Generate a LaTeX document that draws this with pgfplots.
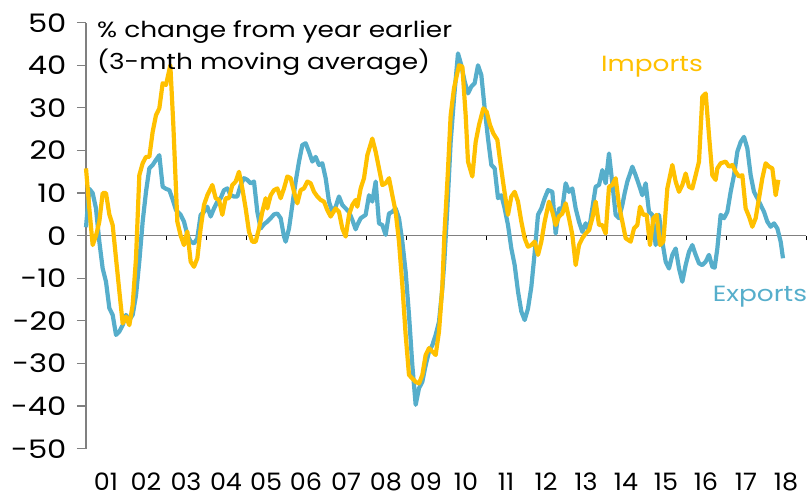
\documentclass[border=0pt]{standalone}
\usepackage{fontspec}
\setmainfont{Poppins}[FakeStretch=1.2]
\newfontfamily\xlabfont{Poppins}[FakeStretch=1.06]
\usepackage{pgfplots}
\pgfplotsset{compat=1.18}
\definecolor{expc}{RGB}{86,174,203}
\definecolor{impc}{RGB}{255,192,0}
\definecolor{axgray}{RGB}{128,128,128}

\pgfplotstableread{
m v
0 2
1 11
2 10
3 6.4
4 -1.4
5 -7.7
6 -10.8
7 -17
8 -18.6
9 -23.3
10 -22.5
11 -21
12 -18.6
13 -19.8
14 -18.6
15 -14
16 -6
17 3.3
18 10.3
19 15.8
20 16.6
21 17.8
22 18.9
23 11.5
24 11
25 10.7
26 8.5
27 6
28.4 4.9
29.4 3.3
30.4 0.2
31.4 -1.4
32.4 -1.8
33.4 -0.6
34.4 4.9
35.4 5.6
36.4 6.8
37.4 4.5
38.4 6.4
39.4 8
40.4 8.8
41.4 10.7
42.4 11.1
43.4 9.5
44.4 9.2
45.4 9.2
46.4 11.9
47.4 13.5
48.4 13.1
49.4 12.3
50.4 12.7
51.4 5.6
52.4 1.7
53.4 2.7
54.4 3.3
55.4 4.1
56.4 5
57.4 5.2
58.4 4.1
59.4 -0.2
59.9 -1.4
60.9 1.7
61.9 7.2
62.9 12.7
63.9 17.4
64.9 21.3
65.9 21.7
66.9 19.7
67.9 17.4
68.9 18.5
69.9 16.6
70.9 17
71.9 13.5
72.9 8
73.9 5.6
74.9 6.8
75.9 9.2
76.9 7.2
77.9 6.4
78.9 5.6
79.9 3.7
80.9 1.5
81.4 2.5
82.4 4.1
83.9 4.9
84.9 9.5
85.9 8
86.9 12.7
87.9 2.9
88.9 2.5
89.9 0.2
90.9 5.2
91.9 5.6
92.9 6.4
93.9 4.1
94.9 -1.4
95.9 -8.5
96.9 -18.6
97.9 -30.4
98.9 -39.7
99.9 -35.8
100.9 -34.3
101.9 -30.4
102.9 -27.2
103.9 -25.7
104.9 -23.3
105.9 -20.2
106.9 -12.4
107.5 -6
108.4 6.4
109.4 22
110.4 32.2
111.6 42.8
112.6 40
113.6 36.2
114.6 33.4
115.6 35
116.6 35.8
117.6 40
118.6 37.7
119.6 29.9
120.6 22.8
121.6 16.6
122.6 15.8
123.6 8.8
124.6 9.5
125.6 6.4
126.6 2.5
127.6 -3
128.6 -6.9
129.6 -13.1
130.6 -17.8
131.6 -19.8
132.6 -17.1
133.6 -12
134.6 -4
135.6 4.9
136.6 6.4
137.6 8.8
138.6 10.7
139.9 10.3
140.9 0.5
141.9 6.4
142.9 6.4
143.9 12.3
144.9 10.3
145.9 11.1
146.9 6.4
147.9 3.3
148.9 0.9
149.9 2.9
150.9 1.3
151.9 6.4
152.9 11.5
153.9 11.9
154.9 15.4
155.9 12.3
156.9 19.3
157.9 12.3
158.9 4.9
159.9 4.1
160.9 7.2
161.6 10
162.4 12.7
163.9 16.2
164.9 14.2
165.9 11.9
166.9 9.5
167.9 12.3
168.9 5.6
169.9 4.9
170.9 -2.2
171.9 4.9
172.9 -1.4
173.9 -6.1
174.9 -7.7
175.9 -4.5
176.9 -3
177.9 -7.7
178.9 -10.8
179.9 -6.9
180.9 -3.8
181.9 -2.2
182.9 -4.5
183.9 -6.5
184.9 -6.9
185.9 -6.1
186.9 -4.5
187.9 -7.3
188.6 -7.5
189.4 -3
190.4 4.9
191.4 4.1
192.4 5.6
193.4 10.3
194.4 14.2
195.4 19.7
196.4 22
197.4 23.2
198.4 20.5
199.4 14.2
200.4 10.3
201.4 8.8
202.4 7.2
203.4 5.6
204.4 3.3
205.4 2.1
206.4 2.9
207.4 1.7
208.4 -1.4
209.1 -5.3
}\exports

\pgfplotstableread{
m v
0 15.8
1 6.4
2 -2.2
3 0
4 3.3
5 10
6 10
7 5
8 2.5
9 -5.3
10 -13
11 -20.6
12 -19
13 -21
14 -16.3
15 -5.3
16 14.2
17 17
18 18.5
19 18.5
20 24.4
21 28.3
22 29.9
23 35.8
24 35.4
25.3 40
26.2 26
27.4 3.3
28.4 0
29.4 -2.2
30.4 1
31.4 -6.1
32.4 -7.3
33.4 -5.3
34.4 1.7
35.4 7.2
36.4 9.5
37.9 11.9
38.9 8.8
39.9 8.4
40.9 4.9
41.9 8.8
42.9 8.8
43.9 11.9
44.9 12.7
45.9 15
46.9 11.1
47.9 6.4
48.9 0.9
49.9 -1.4
50.9 -1.4
51.9 1.7
52.9 5.6
53.9 8.8
54.4 6.4
55.4 9.5
56.4 10.7
57.4 11.1
58.4 8.8
59.4 11.1
60.4 13.9
61.4 13.5
62.4 10.3
63.4 7.6
64.4 10.7
65.4 11.1
66.4 12.7
67.4 12.3
68.4 10.3
69.4 9.2
70.4 8.4
71.4 8
72.4 6
73.4 4.5
74.9 6.4
75.9 5.6
76.9 1.7
77.9 -0.2
78.9 4.9
79.9 7.2
80.9 8.4
81.4 6.8
82.4 11.1
83.4 13.5
84.4 18.9
85.9 22.8
86.9 19.7
87.9 15.8
88.9 11.9
89.9 12.3
90.9 13.5
91.9 9.5
92.9 5.6
93.9 -1.4
94.9 -11.6
95.9 -23.3
96.9 -32.7
97.9 -33.5
98.9 -34.3
99.9 -34.7
100.9 -32.7
101.9 -28
102.9 -26.4
103.9 -27.2
104.9 -28
105.9 -22.5
106.9 -12
107.5 0
108.5 14
109.4 28.3
110.4 34.6
111.9 40
112.9 39.7
113.9 28.3
114.6 17.4
115.9 13.9
116.9 22
117.9 26
119.2 29.9
120.2 29.1
121.2 26
122.2 24
123.4 22.5
124.4 16.6
125.4 11.1
126.6 4.9
127.6 9.2
128.6 10.3
129.6 8
130.6 3.3
131.6 -0.6
132.6 -2.6
133.6 -2.2
134.6 -1.4
135.6 -4.5
136.6 -1.4
137.6 3.3
138.9 8
139.9 5.6
140.9 2.5
141.9 4.5
142.9 5.2
143.9 7.6
144.9 4.1
145.9 0.2
146.9 -6.9
147.9 -2.2
148.9 -0.6
149.9 0.5
150.9 1.3
151.9 4.1
152.9 8
153.9 2.5
154.9 2.5
155.9 0.5
156.9 11.5
157.9 11.9
158.9 13.5
159.9 7.2
160.9 3.3
161.9 -0.6
163.4 -1.4
164.4 1.7
165.4 2.5
166.2 6.8
167.2 4.9
168.2 4.9
169.2 -2.2
170.2 4.1
171.2 4.9
172.2 -2.2
173.2 -1.4
174.4 11.1
175.9 16.6
176.9 12.7
177.9 10.3
178.9 11.9
179.9 14.6
180.9 11.5
181.9 11.1
182.9 14.2
183.9 17.4
184.9 32.6
185.9 33.4
186.9 23.6
187.9 14.2
188.9 13.1
189.4 15.8
190.4 17
191.9 17.4
192.9 16.2
193.9 16.6
194.9 15
195.9 13.9
196.9 14.2
197.9 6.4
198.9 4.5
199.9 2.1
200.9 4.1
201.9 8.8
202.9 13.5
203.9 17
204.9 16.2
205.9 15.8
206.9 9.5
207.7 13.1
}\imports

\begin{document}
\begin{tikzpicture}
% zero line with year ticks
\begin{axis}[
  scale only axis, width=720pt, height=426pt,
  xmin=0, xmax=216, ymin=-50, ymax=50,
  axis x line=middle, axis y line=none,
  x axis line style={-, draw=axgray, line width=1.3pt},
  xtick={0,12,...,216}, xticklabels={},
  tick align=outside, major tick length=4.5pt,
  xtick style={draw=black, line width=1pt},
]
\end{axis}
% main axis
\begin{axis}[
  scale only axis, width=720pt, height=426pt,
  xmin=0, xmax=216, ymin=-50, ymax=50,
  axis y line=left, axis x line=bottom,
  x axis line style={draw=none},
  y axis line style={-, draw=axgray, line width=1.3pt},
  ytick={-50,-40,...,50},
  xtick={6,18,...,210},
  xticklabels={01,02,03,04,05,06,07,08,09,10,11,12,13,14,15,16,17,18},
  xtick style={draw=none},
  ytick style={draw=axgray, line width=1.2pt},
  tick align=outside, major tick length=9pt,
  /pgf/number format/assume math mode=true,
  yticklabel style={font=\fontsize{25.5}{30}\selectfont, anchor=east, xshift=-7pt},
  xticklabel style={font=\xlabfont\fontsize{24}{28}\selectfont, anchor=center, yshift=-24pt},
  clip=false,
]
\addplot[expc, line width=4.2pt, line join=round] table[x=m,y=v] {\exports};
\addplot[impc, line width=4.2pt, line join=round] table[x=m,y=v] {\imports};
\node[anchor=west, inner sep=0pt, font=\fontsize{22}{26}\selectfont] at (axis cs:3.3,47.8) {\% change from year earlier};
\node[anchor=west, inner sep=0pt, font=\fontsize{22}{26}\selectfont] at (axis cs:3.3,40.8) {(3-mth moving average)};
\node[anchor=center, inner sep=0pt, text=impc, font=\fontsize{22}{26}\selectfont] at (axis cs:169.8,39.6) {Imports};
\node[anchor=center, inner sep=0pt, text=expc, font=\fontsize{22}{26}\selectfont] at (axis cs:202.2,-14.4) {Exports};
\coordinate (bl) at (rel axis cs:0,0);
\end{axis}
\pgfresetboundingbox
\path ([shift={(-86pt,-51.3pt)}]bl) rectangle ([shift={(725pt,448.7pt)}]bl);
\end{tikzpicture}
\end{document}
